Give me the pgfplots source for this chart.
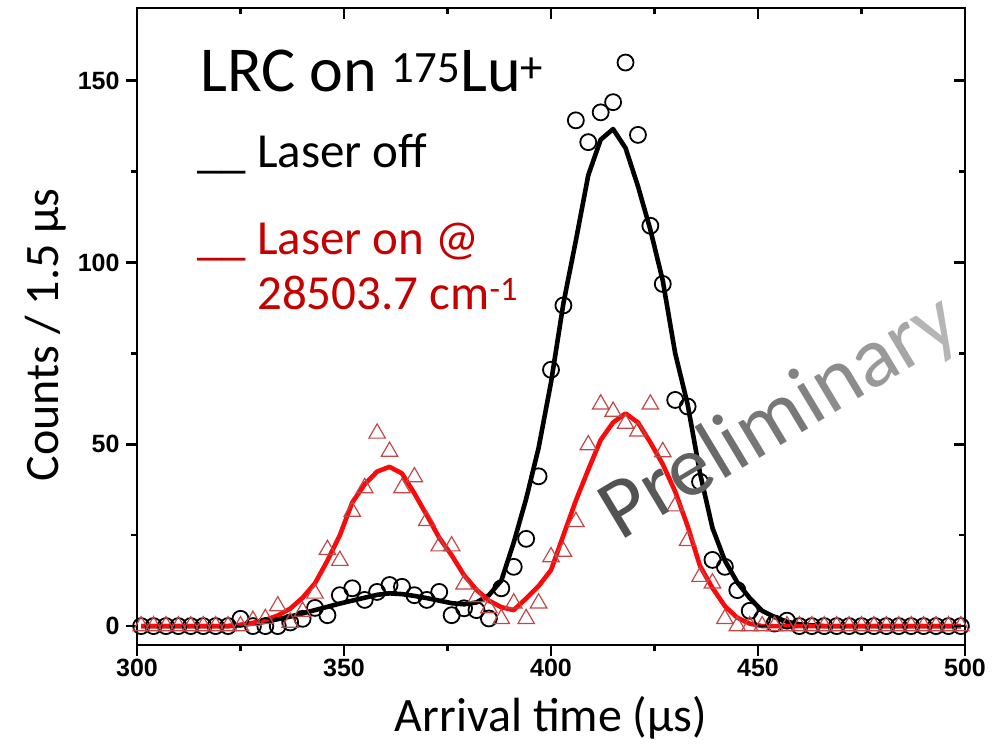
\documentclass[border=0pt]{standalone}
\usepackage{pgfplots}
\pgfplotsset{compat=1.18}
\usepackage{pgfplotstable}
\usepackage{fontspec}
\setmainfont{Carlito}
\newfontfamily\arialfont{Liberation Sans}
\definecolor{trired}{RGB}{192,72,72}
\definecolor{txtred}{RGB}{196,0,0}
\definecolor{linered}{RGB}{250,10,10}
\pgfplotstableread{
x circ tri bfit rfit
301 0 0 0 0
304 0 0 0 0
307 0 0 0 0
310 0 0 0 0
313 0 0 0 0
316 0 0 0 0
319 0 0 0 0
322 0 0 0 0
325 2 0 0.3 0.3
328 0 1.5 0.7 0.9
331 0 2 1.2 1.7
334 0 5.5 1.9 2.9
337 1 1 2.6 4.8
340 2 4 3.5 7.8
343 5 9 4.4 11.8
346 3 21 5.3 18
349 8.5 18 6.2 25
352 10.4 31.5 7.0 34
355 7.2 38 7.8 39
358 9.4 53 8.6 42.5
361 11.3 48 9.0 43.8
364 10.8 38 8.8 42
367 8.5 41 8.3 36.5
370 7.2 29 7.7 30.5
373 9.4 22 7.0 24.3
376 3 22 6.3 19.5
379 4.9 11.5 6.0 14
382 4.4 8 6.5 10
385 2.1 5 8.5 7
388 10.4 2 12.5 5.2
391 16.3 6.3 23 4.4
394 24 2 35 7.6
397 41.2 6.3 49 11
400 70.5 19 67 15.4
403 88.2 20.5 88.8 25
406 139.1 28.7 106 34.5
409 133.1 49.8 124 43
412 141.3 61 133.8 51.2
415 144.1 59 136.7 56
418 155 55.7 131.5 58.5
421 135.1 53.6 121 56
424 110.1 61 109 50.5
427 94.1 47.9 95 44.5
430 62.2 33 75 37
433 60.4 23.5 61 27.5
436 39.7 13.6 42 16.5
439 18.2 11.8 27 10.5
442 16.3 2 18 5.5
445 9.9 0 12 2.3
448 4.2 0 7.7 0.7
451 2.1 0 4.2 0
454 0.7 0 2.5 0
457 1.5 0 1.2 0
460 0 0 0.5 0
463 0 0 0.2 0
466 0 0 0 0
469 0 0 0 0
472 0 0 0 0
475 0 0 0 0
478 0 0 0 0
481 0 0 0 0
484 0 0 0 0
487 0 0 0 0
490 0 0 0 0
493 0 0 0 0
496 0 0 0 0
499 0 0 0 0
}\data
\begin{document}
\begin{tikzpicture}
\pgfplotsset{
  common/.style={
    scale only axis, width=828pt, height=637pt,
    xmin=300, xmax=500, ymin=-5.2, ymax=170,
    xtick={300,350,...,500}, minor xtick={325,375,425,475},
    ytick={0,50,100,150}, minor ytick={25,75,125},
    major tick length=11pt, minor tick length=6pt,
    tick style={line width=2.5pt, black},
  }
}
\begin{axis}[common,
  tick align=outside, xtick pos=left, ytick pos=left,
  axis line style={line width=2.7pt},
  /pgf/number format/assume math mode=true,
  ticklabel style={font=\arialfont\bfseries\fontsize{25}{25}\selectfont},
  yticklabel style={xshift=-3pt},
  xlabel={Arrival time (µs)},
  ylabel={Counts / 1.5 µs},
  label style={font=\fontsize{48}{48}\selectfont},
  xlabel style={at={(axis description cs:0.5,-0.1146)}, anchor=center},
  ylabel style={at={(axis description cs:-0.110,0.487)}, anchor=center},
  clip=false,
]
\addplot[only marks, mark=o, mark size=8pt, mark options={line width=1.8pt, black}] table[x=x,y=circ]{\data};
\addplot[only marks, mark=triangle, mark size=9.5pt, mark options={line width=1.2pt, trired}] table[x=x,y=tri]{\data};
\addplot[black, line width=4.6pt, no marks, line join=round] table[x=x,y=bfit]{\data};
\addplot[linered, line width=4.6pt, no marks, line join=round] table[x=x,y=rfit]{\data};
\end{axis}
\begin{axis}[common,
  tick align=inside, xtick pos=right, ytick pos=right,
  axis line style={draw=none},
  xticklabels={}, yticklabels={},
]
\end{axis}
\node[anchor=base west, font=\fontsize{64}{64}\selectfont, inner sep=0pt] at (63pt,553pt) {LRC on \textsuperscript{175}Lu\textsuperscript{+}};
\node[anchor=base west, font=\fontsize{49}{49}\selectfont, inner sep=0pt] at (60pt,477pt) {\_\_ Laser off};
\node[anchor=base west, font=\fontsize{49}{49}\selectfont, inner sep=0pt, text=txtred] at (60pt,390pt) {\_\_ Laser on @};
\node[anchor=base west, font=\fontsize{49}{49}\selectfont, inner sep=0pt, text=txtred] at (120pt,335pt) {28503.7 cm\textsuperscript{-1}};
\node[rotate=31, font=\fontsize{86}{86}\selectfont, inner sep=0pt] at (643pt,226pt) {%
{\color[gray]{0.32}P}{\color[gray]{0.35}r}{\color[gray]{0.38}e}{\color[gray]{0.41}l}{\color[gray]{0.44}i}{\color[gray]{0.47}m}{\color[gray]{0.51}i}{\color[gray]{0.55}n}{\color[gray]{0.60}a}{\color[gray]{0.65}r}{\color[gray]{0.71}y}};
\path[use as bounding box] (-137pt,-107pt) rectangle (866pt,645pt);
\end{tikzpicture}
\end{document}
